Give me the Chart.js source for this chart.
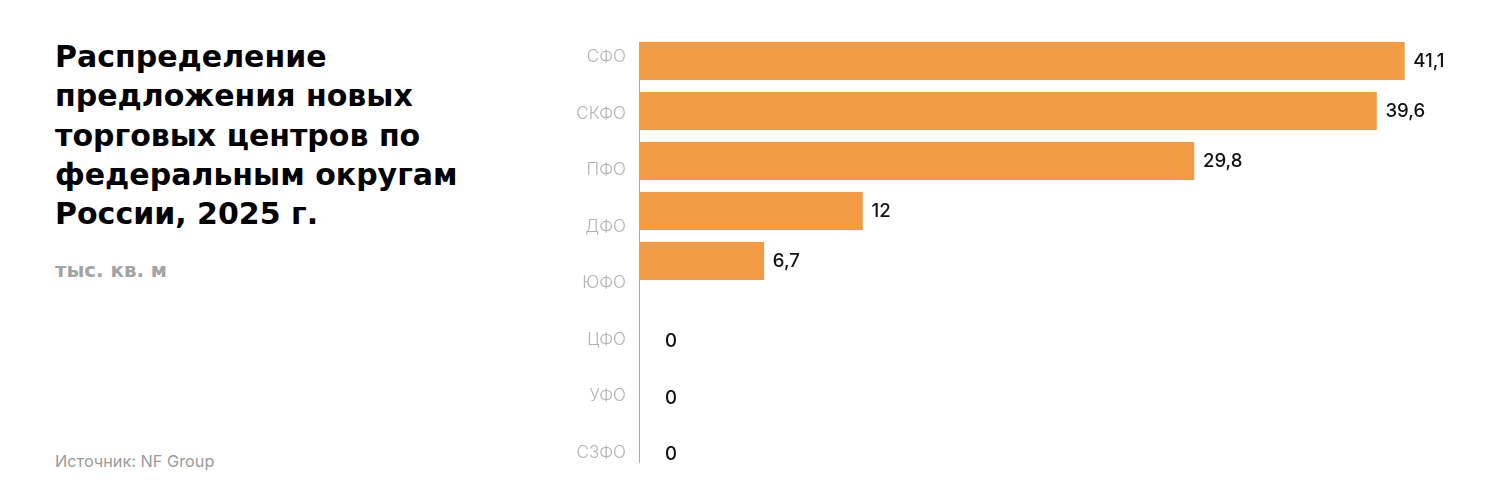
<!DOCTYPE html>
<html>
<head>
<meta charset="utf-8">
<script src="https://cdn.jsdelivr.net/npm/chart.js@4"></script>
<style>
  html, body { margin: 0; padding: 0; background: #fff; }
  body { width: 1500px; height: 489px; position: relative; overflow: hidden; }
  #title { position: absolute; left: 55px; top: 37px; font-family: "DejaVu Sans", sans-serif; font-size: 30px; line-height: 39.25px; font-weight: 700; color: #000; white-space: nowrap; }
  #unit { position: absolute; left: 55px; top: 261px; font-family: "DejaVu Sans", sans-serif; font-size: 19.8px; line-height: 20px; font-weight: 700; color: #a3a3a3; white-space: nowrap; }
  #source { position: absolute; left: 55px; top: 451px; font-family: Inter, sans-serif; font-size: 16.3px; line-height: 20px; color: #9a9a9a; white-space: nowrap; }
  #wrap { position: absolute; left: 500px; top: 0; width: 977px; height: 489px; }
</style>
</head>
<body>
<div id="title">Распределение<br>предложения новых<br>торговых центров по<br>федеральным округам<br>России, 2025 г.</div>
<div id="unit">тыс. кв. м</div>
<div id="source">Источник: NF Group</div>
<div id="wrap"><canvas id="c"></canvas></div>
<script>
const categories = ["СФО", "СКФО", "ПФО", "ДФО", "ЮФО", "ЦФО", "УФО", "СЗФО"];
const values = [41.1, 39.6, 29.8, 12, 6.7, 0, 0, 0];
const valueLabels = ["41,1", "39,6", "29,8", "12", "6,7", "0", "0", "0"];

const axisLinePlugin = {
  id: 'axisLine',
  beforeDatasetsDraw(chart) {
    const ctx = chart.ctx;
    const a = chart.chartArea;
    const x = Math.round(chart.scales.x.getPixelForValue(0)) + 0.5;
    ctx.save();
    ctx.strokeStyle = '#a8a8a8';
    ctx.lineWidth = 1;
    ctx.beginPath();
    ctx.moveTo(x, a.top + 13);
    ctx.lineTo(x, a.bottom - 18);
    ctx.stroke();
    ctx.restore();
  }
};

const valueLabelPlugin = {
  id: 'valueLabels',
  afterDatasetsDraw(chart) {
    const ctx = chart.ctx;
    const meta = chart.getDatasetMeta(0);
    const xs = chart.scales.x;
    const ys = chart.scales.y;
    ctx.save();
    ctx.font = '500 18.6px Inter, sans-serif';
    ctx.fillStyle = '#111';
    ctx.textAlign = 'left';
    ctx.textBaseline = 'middle';
    values.forEach((v, i) => {
      if (v > 0) {
        const el = meta.data[i];
        ctx.fillText(valueLabels[i], el.x + 9, el.y);
      } else {
        ctx.fillText(valueLabels[i], xs.getPixelForValue(0) + 26, ys.getPixelForValue(i) + 2);
      }
    });
    ctx.restore();
  }
};

new Chart(document.getElementById('c'), {
  type: 'bar',
  data: {
    labels: categories,
    datasets: [{
      data: categories.map((c, i) => ({ x: values[i], y: i })),
      backgroundColor: '#F39B42',
      borderWidth: 0,
      barThickness: 37.5,
      yAxisID: 'yb'
    }]
  },
  options: {
    indexAxis: 'y',
    responsive: true,
    maintainAspectRatio: false,
    animation: false,
    layout: { padding: { top: 29, bottom: 8, left: 0, right: 0 } },
    plugins: { legend: { display: false }, tooltip: { enabled: false } },
    scales: {
      x: { display: false, min: 0, max: 45 },
      y: {
        type: 'category',
        position: 'left',
        offset: true,
        grid: { display: false, drawTicks: false },
        border: { display: false },
        ticks: { padding: 13, color: '#b3b3b3', font: { family: 'Inter, sans-serif', size: 17, weight: '300' } },
        afterFit(scale) { scale.width = 139; scale.paddingTop = 0; scale.paddingBottom = 0; }
      },
      yb: {
        type: 'linear',
        display: false,
        reverse: true,
        offset: false,
        bounds: 'data',
        min: -0.64,
        max: 8.4
      }
    }
  },
  plugins: [axisLinePlugin, valueLabelPlugin]
});
</script>
</body>
</html>
